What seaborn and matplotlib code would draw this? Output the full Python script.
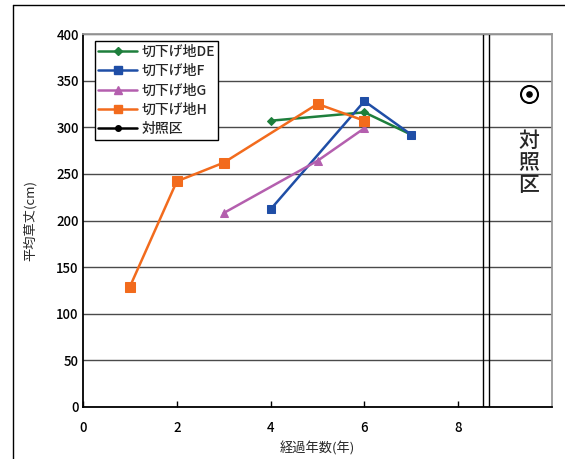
import matplotlib
matplotlib.use("Agg")
import matplotlib.pyplot as plt
from matplotlib.lines import Line2D
import seaborn as sns
import pandas as pd

# Plant height records per cut-slope site (years elapsed, mean height in cm)
de_years = [4, 6, 7]
de_height = [307, 316, 292]
f_years = [4, 6, 7]
f_height = [212, 328, 292]
g_years = [3, 5, 6]
g_height = [208, 264, 299]
h_years = [1, 2, 3, 5, 6]
h_height = [129, 242, 262, 325, 307]
control_x = [9.5]
control_height = [336]

series_names = ["切下げ地DE", "切下げ地F", "切下げ地G", "切下げ地H"]
series_years = [de_years, f_years, g_years, h_years]
series_heights = [de_height, f_height, g_height, h_height]
colors = ["#1e7f3c", "#1f4ea6", "#b45fae", "#f26b1d"]
markers = ["D", "s", "^", "s"]
marker_sizes = [4.5, 6, 6, 7]

x_ticks = [0, 2, 4, 6, 8]
y_ticks = [0, 50, 100, 150, 200, 250, 300, 350, 400]

sns.set_theme(style="white")
plt.rcParams["font.family"] = ["Noto Sans CJK JP", "DejaVu Sans"]
plt.rcParams["font.weight"] = "medium"

fig = plt.figure(figsize=(5.65, 4.59), dpi=100)
ax = fig.add_axes([83 / 565, 1 - 407 / 459, (552 - 83) / 565, (407 - 34) / 459])

frames = []
for name, xs, ys in zip(series_names, series_years, series_heights):
    frames.append(pd.DataFrame({"year": xs, "height": ys, "site": name}))
df = pd.concat(frames, ignore_index=True)

for name, col, mk, ms in zip(series_names, colors, markers, marker_sizes):
    sub = df[df["site"] == name]
    sns.lineplot(data=sub, x="year", y="height", color=col, marker=mk,
                 markersize=ms, markeredgecolor=col, linewidth=1.8,
                 ax=ax, legend=False, label=name)

# control plot shown as a circled dot beyond the break
ax.scatter(control_x, control_height, s=150, facecolor="white",
           edgecolor="black", linewidth=1.5, zorder=5)
ax.scatter(control_x, control_height, s=14, color="black", zorder=6)
ax.text(control_x[0], 262, "対\n照\n区", ha="center", va="center",
        fontsize=15, linespacing=1.0)

# axis break marks
ax.axvline(8.53, color="black", linewidth=1.0)
ax.axvline(8.66, color="black", linewidth=1.0)

ax.set_xlim(0, 10)
ax.set_ylim(0, 400)
ax.set_xticks(x_ticks)
ax.set_yticks(y_ticks)
ax.tick_params(axis="both", labelsize=9.5, colors="black")
ax.tick_params(axis="x", direction="in", length=4, width=1, pad=10, bottom=True)
ax.tick_params(axis="y", length=0, pad=3)
ax.yaxis.grid(True, color="#4a4a4a", linewidth=1.0)
ax.xaxis.grid(False)
ax.set_axisbelow(True)

for side in ["left", "bottom"]:
    ax.spines[side].set_color("black")
    ax.spines[side].set_linewidth(1.3)
for side in ["top", "right"]:
    ax.spines[side].set_color("#999999")
    ax.spines[side].set_linewidth(1.3)

ax.set_xlabel("経過年数(年)", fontsize=9.5, labelpad=5)
ax.set_ylabel("平均草丈(cm)", fontsize=9.5, labelpad=14)

handles = [Line2D([], [], color=c, marker=m, markersize=s * 0.85,
                  markeredgecolor=c, linewidth=1.8)
           for c, m, s in zip(colors, markers, marker_sizes)]
handles.append(Line2D([], [], color="black", marker="o", markersize=4, linewidth=1.8))
labels = series_names + ["対照区"]
leg = ax.legend(handles, labels, loc="upper left", bbox_to_anchor=(0.025, 0.98),
                fontsize=10, frameon=True, fancybox=False, framealpha=1,
                edgecolor="black", borderpad=0.25, labelspacing=0.38,
                handlelength=2.8, handletextpad=0.3, borderaxespad=0)
leg.get_frame().set_linewidth(1.0)

# outer chart-area border
fig.add_artist(Line2D([13 / 565, 13 / 565], [0, 1 - 5 / 459], color="black",
                      linewidth=1.0, transform=fig.transFigure))
fig.add_artist(Line2D([13 / 565, 1], [1 - 5 / 459, 1 - 5 / 459], color="black",
                      linewidth=1.0, transform=fig.transFigure))

fig.savefig("out.png", dpi=100)
